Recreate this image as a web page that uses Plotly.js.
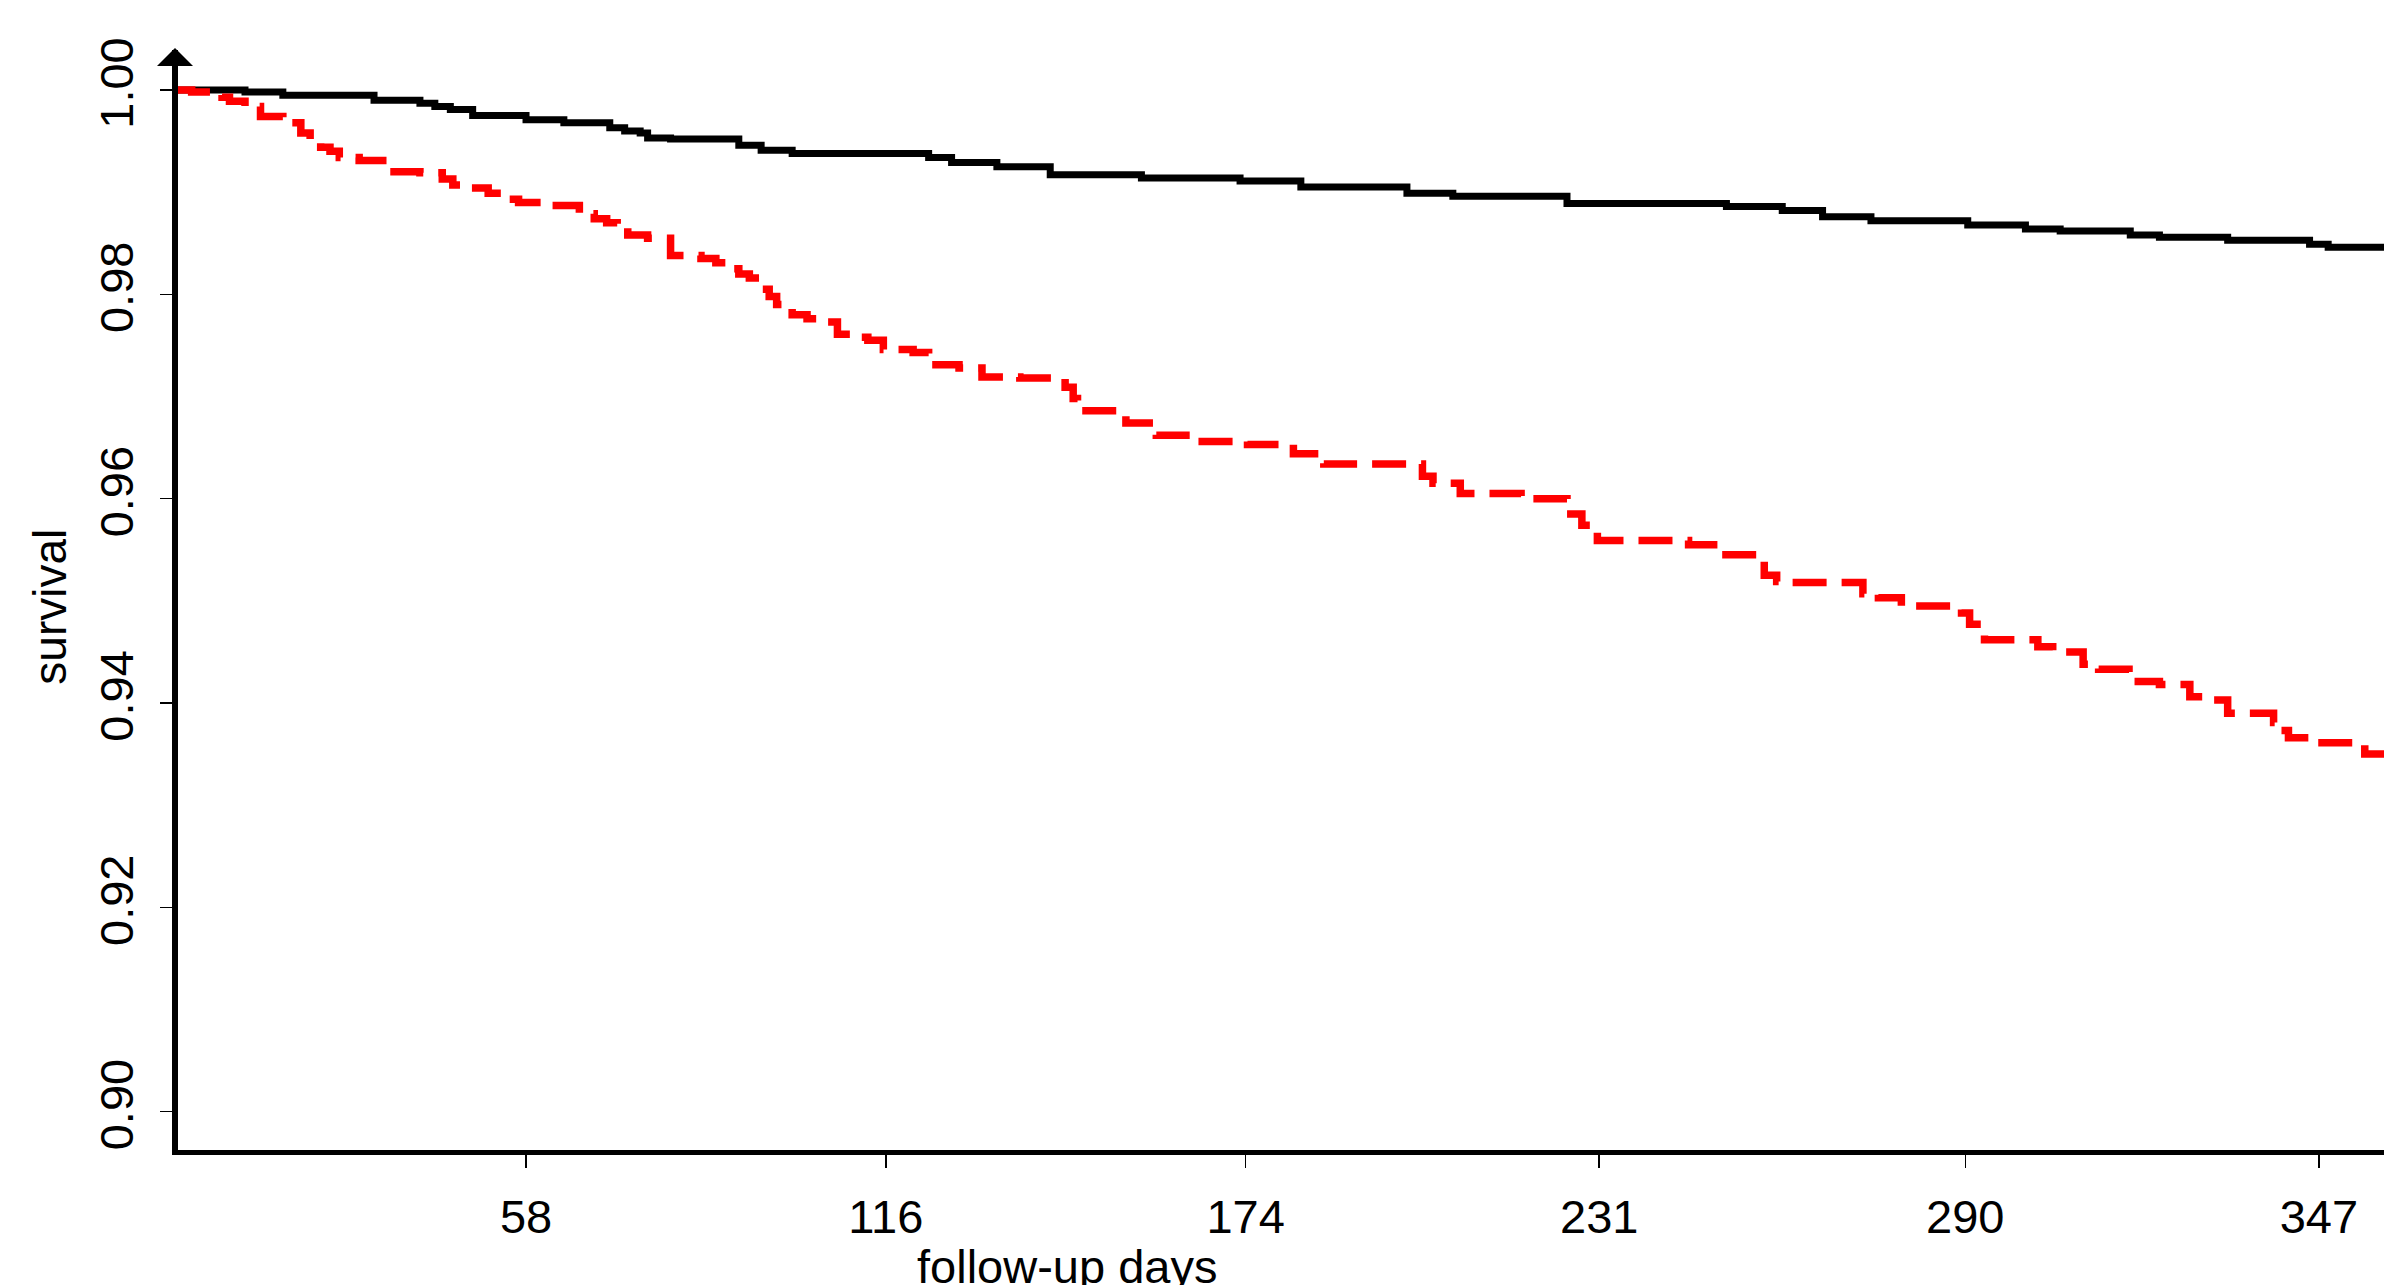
<!DOCTYPE html>
<html>
<head>
<meta charset="utf-8">
<script src="https://cdn.plot.ly/plotly-3.0.1.min.js"></script>
<style>
html,body{margin:0;padding:0;background:#fff;}
#chart{width:2384px;height:1285px;}
</style>
</head>
<body>
<div id="chart"></div>
<script>
// Kaplan-Meier style survival curves
const groupADays = [1.9, 12.7, 18.8, 33.5, 40.9, 43.3, 45.8, 49.4, 58.0, 64.1, 71.5, 73.9, 76.4, 77.6, 81.3, 92.3, 95.9, 100.9, 122.9, 126.6, 133.9, 142.5, 157.2, 173.1, 182.9, 200.0, 207.4, 225.8, 251.5, 260.5, 267.0, 274.8, 290.4, 299.7, 305.3, 316.6, 321.3, 332.3, 345.5, 348.5, 357.5];
const groupASurv = [1.0000, 0.9998, 0.9995, 0.9990, 0.9987, 0.9984, 0.9981, 0.9975, 0.9971, 0.9968, 0.9963, 0.9960, 0.9958, 0.9953, 0.9952, 0.9946, 0.9941, 0.9938, 0.9934, 0.9929, 0.9925, 0.9917, 0.9914, 0.9911, 0.9905, 0.9899, 0.9896, 0.9889, 0.9886, 0.9882, 0.9876, 0.9872, 0.9868, 0.9864, 0.9862, 0.9858, 0.9856, 0.9853, 0.9849, 0.9846, 0.9846];

const groupBDays = [1.9, 4.1, 9.0, 10.2, 12.7, 15.2, 18.8, 21.7, 23.2, 24.9, 26.4, 27.9, 31.1, 35.9, 40.9, 44.5, 46.2, 48.2, 51.9, 54.3, 56.8, 61.7, 66.6, 69.0, 71.0, 72.7, 74.4, 77.6, 81.3, 86.2, 88.6, 90.6, 92.3, 94.0, 95.9, 97.2, 98.4, 100.9, 103.3, 105.8, 108.2, 110.7, 113.1, 115.6, 120.4, 122.9, 127.8, 131.5, 137.6, 144.9, 146.2, 146.9, 147.4, 153.5, 154.7, 159.6, 167.0, 174.3, 181.7, 186.6, 202.5, 204.2, 208.6, 218.4, 225.8, 228.2, 230.7, 245.4, 250.3, 257.6, 259.6, 261.3, 273.5, 276.0, 279.7, 289.4, 290.7, 291.9, 293.1, 301.7, 304.1, 309.0, 311.5, 316.4, 321.3, 326.2, 328.6, 332.3, 339.7, 340.9, 342.1, 345.8, 354.4, 357.5];
const groupBSurv = [1.0000, 0.9998, 0.9993, 0.9989, 0.9984, 0.9974, 0.9968, 0.9958, 0.9949, 0.9944, 0.9940, 0.9934, 0.9931, 0.9920, 0.9919, 0.9913, 0.9907, 0.9904, 0.9899, 0.9893, 0.9890, 0.9887, 0.9879, 0.9874, 0.9870, 0.9865, 0.9858, 0.9855, 0.9838, 0.9835, 0.9831, 0.9825, 0.9820, 0.9816, 0.9805, 0.9798, 0.9790, 0.9780, 0.9776, 0.9773, 0.9761, 0.9758, 0.9755, 0.9746, 0.9743, 0.9731, 0.9728, 0.9719, 0.9718, 0.9709, 0.9698, 0.9689, 0.9686, 0.9682, 0.9674, 0.9662, 0.9656, 0.9653, 0.9644, 0.9634, 0.9622, 0.9615, 0.9605, 0.9600, 0.9585, 0.9574, 0.9559, 0.9555, 0.9545, 0.9525, 0.9519, 0.9518, 0.9507, 0.9503, 0.9495, 0.9488, 0.9477, 0.9468, 0.9462, 0.9455, 0.9450, 0.9438, 0.9433, 0.9421, 0.9418, 0.9406, 0.9403, 0.9390, 0.9381, 0.9373, 0.9366, 0.9361, 0.9350, 0.9350];

const xTickVals = [58, 116, 174, 231, 290, 347];
const xTickText = ['58', '116', '174', '231', '290', '347'];
const yTickVals = [0.90, 0.92, 0.94, 0.96, 0.98, 1.00];
const yTickText = ['0.90', '0.92', '0.94', '0.96', '0.98', '1.00'];
const xTitle = 'follow-up days';
const yTitle = 'survival';

const FONT = 'Liberation Sans, Arial, Helvetica, sans-serif';

const traces = [
  {
    x: groupADays, y: groupASurv, type: 'scatter', mode: 'lines',
    line: {shape: 'hv', color: '#000000', width: 7},
    hoverinfo: 'skip', showlegend: false
  },
  {
    x: groupBDays, y: groupBSurv, type: 'scatter', mode: 'lines',
    line: {shape: 'hv', color: '#ff0000', width: 7.5, dash: '34px,15px'},
    hoverinfo: 'skip', showlegend: false
  }
];

const layout = {
  width: 2384, height: 1285,
  margin: {l: 178, r: 0, t: 50, b: 135, pad: 0},
  paper_bgcolor: '#ffffff', plot_bgcolor: '#ffffff',
  font: {family: FONT, size: 47, color: '#000000'},
  showlegend: false,
  xaxis: {
    range: [1.9, 357.5],
    showgrid: false, zeroline: false,
    showline: true, linecolor: '#000000', linewidth: 5,
    ticks: 'outside', ticklen: 13, tickwidth: 1.5, tickcolor: '#000000',
    tickvals: xTickVals, ticktext: xTickText,
    tickfont: {family: FONT, size: 47, color: '#000000'},
    ticklabelstandoff: 9
  },
  yaxis: {
    range: [0.89624, 1.00392],
    showgrid: false, zeroline: false,
    showline: true, linecolor: '#000000', linewidth: 6,
    ticks: 'outside', ticklen: 12, tickwidth: 1.5, tickcolor: '#000000',
    tickvals: yTickVals, ticktext: yTickText, tickangle: -90,
    tickfont: {family: FONT, size: 47, color: '#000000'},
    ticklabelstandoff: 8
  },
  annotations: [
    {
      xref: 'paper', yref: 'paper', x: 0, y: 1, xshift: -3, yshift: 2,
      text: '', showarrow: true, arrowhead: 1, arrowsize: 1.0, arrowwidth: 6,
      arrowcolor: '#000000', ax: 0, ay: 60, standoff: 0
    },
    {
      xref: 'paper', yref: 'paper', x: 0.403, y: 0, yanchor: 'top', xanchor: 'center',
      yshift: -88, text: xTitle, showarrow: false,
      font: {family: FONT, size: 47, color: '#000000'}
    },
    {
      xref: 'paper', yref: 'paper', x: -0.058, y: 0.494, xanchor: 'center', yanchor: 'middle',
      textangle: -90, text: yTitle, showarrow: false,
      font: {family: FONT, size: 46, color: '#000000'}
    }
  ]
};

Plotly.newPlot('chart', traces, layout, {displayModeBar: false, staticPlot: true});
</script>
</body>
</html>
